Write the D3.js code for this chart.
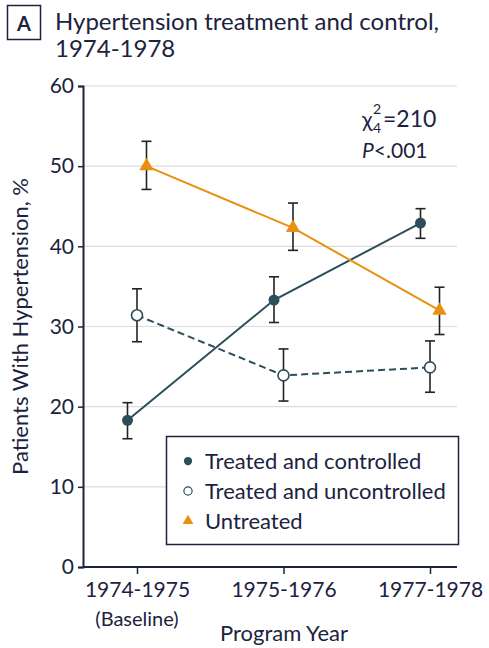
<!DOCTYPE html>
<html>
<head>
<meta charset="utf-8">
<script src="https://cdn.jsdelivr.net/npm/d3@7"></script>
<style>
  body { margin: 0; background: #fff; }
  text { font-family: Lato, "Noto Sans", sans-serif; fill: #1c2340; }
</style>
</head>
<body>
<script>
var years = ["1974-1975", "1975-1976", "1977-1978"]
var seriesNames = ["Treated and controlled", "Treated and uncontrolled", "Untreated"]

// percent, lower CI, upper CI
var controlled = [18.3, 33.3, 42.9]
var controlledLo = [16.0, 30.5, 41.0]
var controlledHi = [20.5, 36.2, 44.7]

var uncontrolled = [31.4, 23.9, 24.9]
var uncontrolledLo = [28.1, 20.7, 21.8]
var uncontrolledHi = [34.7, 27.2, 28.2]

var untreated = [50.0, 42.3, 32.0]
var untreatedLo = [47.1, 39.5, 29.0]
var untreatedHi = [53.1, 45.4, 34.9]

var yTicks = [0, 10, 20, 30, 40, 50, 60]

var width = 489, height = 648
var margin = {left: 83, right: 32, top: 86, bottom: 81}
var teal = "#2c4e5b", orange = "#e8900f", ink = "#1c2340"

var svg = d3.select("body").append("svg")
  .attr("width", width)
  .attr("height", height)

var x = d3.scalePoint().domain(years).range([137, 430])
var y = d3.scaleLinear().domain([0, 60]).range([height - margin.bottom, margin.top])
var dodge = d3.scalePoint().domain(seriesNames).range([-9.5, 9.5])

// title
svg.append("rect")
  .attr("x", 7.5).attr("y", 5.5)
  .attr("width", 33).attr("height", 34)
  .attr("fill", "none").attr("stroke", ink).attr("stroke-width", 1.5)
svg.append("text")
  .attr("x", 24).attr("y", 31)
  .attr("text-anchor", "middle")
  .style("font-size", "20px").style("font-weight", "bold")
  .text("A")
svg.append("text")
  .attr("x", 55).attr("y", 30)
  .style("font-size", "24px")
  .text("Hypertension treatment and control,")
svg.append("text")
  .attr("x", 55).attr("y", 57)
  .style("font-size", "24px")
  .text("1974-1978")

// grid
svg.append("g").selectAll("line")
  .data(yTicks.filter(function(d) { return d > 0 }))
  .enter().append("line")
  .attr("x1", margin.left).attr("x2", 457)
  .attr("y1", function(d) { return y(d) })
  .attr("y2", function(d) { return y(d) })
  .attr("stroke", "#dcdcdc").attr("stroke-width", 1.2)

// axes
var yAxis = svg.append("g")
  .attr("transform", "translate(" + margin.left + ",0)")
  .call(d3.axisLeft(y).tickValues(yTicks).tickSize(5).tickPadding(4))
yAxis.select(".domain").attr("stroke", ink).attr("stroke-width", 2)
yAxis.selectAll(".tick line").attr("stroke", ink).attr("stroke-width", 1.5)
yAxis.selectAll(".tick text").style("font-size", "21px").attr("fill", ink)

var xAxis = svg.append("g")
  .attr("transform", "translate(0," + y(0) + ")")
  .call(d3.axisBottom(x).tickSize(7).tickPadding(8).tickSizeOuter(0))
xAxis.select(".domain").attr("d", "M" + margin.left + ",0H457").attr("stroke", ink).attr("stroke-width", 2)
xAxis.selectAll(".tick line").attr("stroke", ink).attr("stroke-width", 1.5)
xAxis.selectAll(".tick text").style("font-size", "21px").attr("fill", ink)

svg.append("text")
  .attr("x", x(years[0])).attr("y", 626)
  .attr("text-anchor", "middle")
  .style("font-size", "20px")
  .text("(Baseline)")
svg.append("text")
  .attr("x", 284).attr("y", 641)
  .attr("text-anchor", "middle")
  .style("font-size", "22px")
  .text("Program Year")
svg.append("text")
  .attr("transform", "translate(28," + y(30) + ") rotate(-90)")
  .attr("text-anchor", "middle")
  .style("font-size", "22px")
  .text("Patients With Hypertension, %")

// chi square annotation
svg.append("text").attr("x", 362).attr("y", 127).style("font-size", "22px").text("\u03C7")
svg.append("text").attr("x", 373).attr("y", 114).style("font-size", "14px").text("2")
svg.append("text").attr("x", 373).attr("y", 133).style("font-size", "14px").text("4")
svg.append("text").attr("x", 383).attr("y", 127).style("font-size", "23px").text("=210")
svg.append("text")
  .attr("x", 362).attr("y", 158)
  .style("font-size", "21px").style("font-style", "italic")
  .text("P")
  .append("tspan").style("font-style", "normal").text("<.001")

var series = [
  {name: seriesNames[0], v: controlled, lo: controlledLo, hi: controlledHi},
  {name: seriesNames[1], v: uncontrolled, lo: uncontrolledLo, hi: uncontrolledHi},
  {name: seriesNames[2], v: untreated, lo: untreatedLo, hi: untreatedHi}
]

function px(s, i) { return x(years[i]) + dodge(s.name) }

var line = d3.line()
series.forEach(function(s) {
  var pts = s.v.map(function(v, i) { return [px(s, i), y(v)] })
  svg.append("path")
    .attr("d", line(pts))
    .attr("fill", "none")
    .attr("stroke", s.name === "Untreated" ? orange : teal)
    .attr("stroke-width", 2)
    .attr("stroke-dasharray", s.name === "Treated and uncontrolled" ? "7,4" : null)
})

// error bars
series.forEach(function(s) {
  var g = svg.append("g").attr("stroke", "#222").attr("stroke-width", 1.6)
  s.v.forEach(function(v, i) {
    var cx = px(s, i)
    g.append("line").attr("x1", cx).attr("x2", cx).attr("y1", y(s.lo[i])).attr("y2", y(s.hi[i]))
    g.append("line").attr("x1", cx - 5).attr("x2", cx + 5).attr("y1", y(s.lo[i])).attr("y2", y(s.lo[i]))
    g.append("line").attr("x1", cx - 5).attr("x2", cx + 5).attr("y1", y(s.hi[i])).attr("y2", y(s.hi[i]))
  })
})

var tri = d3.symbol().type(d3.symbolTriangle).size(90)
function marker(sel, name) {
  if (name === "Untreated") {
    sel.append("path").attr("d", tri).attr("fill", orange)
  } else if (name === "Treated and controlled") {
    sel.append("circle").attr("r", 5.5).attr("fill", teal)
  } else {
    sel.append("circle").attr("r", 5.5).attr("fill", "#fff").attr("stroke", teal).attr("stroke-width", 1.6)
  }
}

series.forEach(function(s) {
  s.v.forEach(function(v, i) {
    var g = svg.append("g").attr("transform", "translate(" + px(s, i) + "," + y(v) + ")")
    marker(g, s.name)
  })
})

// legend
svg.append("rect")
  .attr("x", 166.5).attr("y", 436.5)
  .attr("width", 292).attr("height", 108)
  .attr("fill", "#fff").attr("stroke", ink).attr("stroke-width", 1.5)
var leg = svg.append("g").selectAll("g")
  .data(seriesNames)
  .enter().append("g")
  .attr("transform", function(d, i) { return "translate(188," + (461 + i * 30) + ")" })
leg.each(function(d) {
  var g = d3.select(this)
  var m = g.append("g").attr("transform", "scale(0.75)")
  marker(m, d)
})
leg.append("text")
  .attr("x", 17).attr("dy", "0.35em")
  .style("font-size", "22px")
  .text(function(d) { return d })
</script>
</body>
</html>
